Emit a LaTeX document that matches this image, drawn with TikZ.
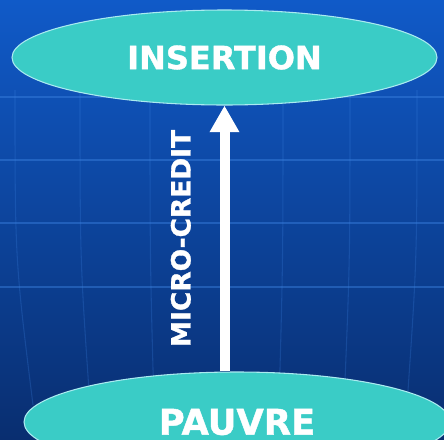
\documentclass[tikz,border=0pt]{standalone}
\usepackage{fontspec}
\setmainfont{DejaVu Sans}[BoldFeatures={FakeBold=1.2}]
\usepackage{xcolor}
\usepackage{tikz}
\usetikzlibrary{arrows.meta,positioning,shapes.geometric}

\definecolor{bgtop}{RGB}{16,90,200}
\definecolor{bgbot}{RGB}{9,46,112}
\definecolor{gridc}{RGB}{60,130,225}
\definecolor{teal}{RGB}{58,204,198}
\definecolor{rim}{RGB}{170,235,240}

\begin{document}
\begin{tikzpicture}[
      x=0.75pt, y=-0.75pt,
      bubble/.style={ellipse, draw=rim, line width=0.8pt, fill=teal, text=white,
        font=\bfseries, inner sep=0pt},
      gl/.style={gridc, line width=0.8pt, opacity=0.45},
      ar/.style={-{Triangle[length=20pt, width=21pt]}, white, line width=7.5pt}]
    \useasboundingbox (0,0) rectangle (444,440);
    \fill[top color=bgtop, bottom color=bgbot] (0,0) rectangle (444,440);
    % background grid
    \foreach \y in {97,160,223,287}
      \draw[gl] (0,\y) -- (444,\y);
    \foreach \xa/\xb in {15/33, 80/90, 150/154, 283/279, 350/344, 417/407}
      \draw[gl, opacity=0.25] (\xa,90) .. controls (\xa,260) .. (\xb,405);
    \node[bubble, minimum width=318.75pt, minimum height=71.25pt,
      font=\bfseries\fontsize{24}{24}\selectfont] (ins) at (224.5,57.5) {INSERTION};
    \node[bubble, minimum width=319.5pt, minimum height=75pt,
      font=\bfseries\fontsize{26.5}{26.5}\selectfont] (pau) at (237,422) {PAUVRE};
    \draw[ar] (pau.north -| ins.south) -- (ins.south)
      node[midway, sloped, above=21.5pt, inner sep=0pt, text=white,
        font=\bfseries\fontsize{19.8}{19.8}\selectfont] (mc) {MICRO-CREDIT};
  \end{tikzpicture}
\end{document}
